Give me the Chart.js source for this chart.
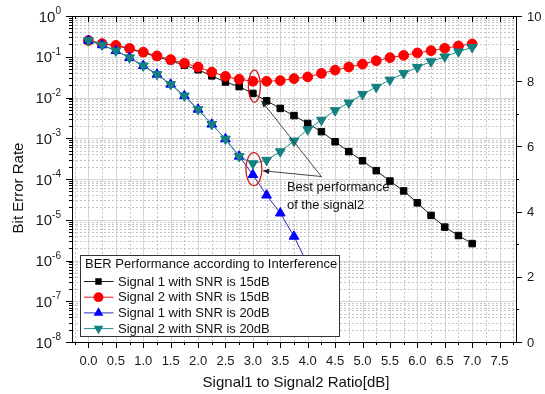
<!DOCTYPE html>
<html>
<head>
<meta charset="utf-8">
<script src="https://cdn.jsdelivr.net/npm/chart.js@4/dist/chart.umd.min.js"></script>
<style>
  html, body { margin: 0; padding: 0; background: #fff; }
  canvas { display: block; }
</style>
</head>
<body>
<canvas id="c" width="545" height="394"></canvas>
<script>
// Signal1-to-Signal2 power ratio in dB (x axis)
const ratios = [0, 0.25, 0.5, 0.75, 1.0, 1.25, 1.5, 1.75, 2.0, 2.25, 2.5, 2.75, 3.0, 3.25, 3.5,
                3.75, 4.0, 4.25, 4.5, 4.75, 5.0, 5.25, 5.5, 5.75, 6.0, 6.25, 6.5, 6.75, 7.0];

// Bit error rates
const sig1Snr15 = [0.25, 0.21, 0.19, 0.155, 0.125, 0.10, 0.08, 0.062, 0.048, 0.034, 0.024, 0.0185, 0.0126,
                   0.0083, 0.0054, 0.0036, 0.0023, 0.00145, 0.00082, 0.00047, 0.00028, 0.00016, 0.000089,
                   0.000051, 0.000026, 0.0000128, 0.0000066, 0.0000041, 0.0000026];
const sig2Snr15 = [0.25, 0.21, 0.19, 0.16, 0.13, 0.105, 0.085, 0.069, 0.056, 0.042, 0.033, 0.028, 0.025,
                   0.025, 0.026, 0.029, 0.032, 0.039, 0.047, 0.056, 0.066, 0.080, 0.095, 0.108, 0.124,
                   0.141, 0.161, 0.184, 0.206];
const sig1Snr20 = [0.25, 0.195, 0.14, 0.095, 0.06, 0.037, 0.021, 0.011, 0.0051, 0.0022, 0.00096, 0.00036,
                   0.000127, 0.00004, 0.0000145, 0.0000039, 0.0000008];
const sig2Snr20 = [0.25, 0.195, 0.14, 0.095, 0.06, 0.037, 0.021, 0.011, 0.0051, 0.0022, 0.00096, 0.00036,
                   0.00024, 0.00029, 0.00047, 0.00086, 0.00163, 0.0028, 0.0048, 0.0074, 0.012, 0.018,
                   0.027, 0.039, 0.055, 0.076, 0.10, 0.133, 0.17];

const xTickLabels = ['0.0', '0.5', '1.0', '1.5', '2.0', '2.5', '3.0', '3.5', '4.0', '4.5',
                     '5.0', '5.5', '6.0', '6.5', '7.0', '7.5'];
const yDecades = [0, -1, -2, -3, -4, -5, -6, -7, -8];
const rightTicks = [0, 2, 4, 6, 8, 10];

const legendTitle = 'BER Performance according to Interference';
const seriesNames = ['Signal 1 with SNR is 15dB', 'Signal 2 with SNR is 15dB',
                     'Signal 1 with SNR is 20dB', 'Signal 2 with SNR is 20dB'];
const xTitle = 'Signal1 to Signal2 Ratio[dB]';
const yTitle = 'Bit Error Rate';
const noteLines = ['Best performance', 'of the signal2'];

const FONT = "'Liberation Sans', Arial, Helvetica, sans-serif";

const styles = [
  { line: '#1a1a1a', fill: '#000000', shape: 'rect',     radius: 4.6, rot: 0,   order: 3 },
  { line: '#e21a1a', fill: '#ff0000', shape: 'circle',   radius: 4.9, rot: 0,   order: 2 },
  { line: '#3030b8', fill: '#0000ff', shape: 'triangle', radius: 5.6, rot: 0,   order: 1 },
  { line: '#2a8c8c', fill: '#168080', shape: 'triangle', radius: 5.6, rot: 180, order: 0 }
];
const seriesValues = [sig1Snr15, sig2Snr15, sig1Snr20, sig2Snr20];

const datasets = seriesValues.map((vals, i) => ({
  label: seriesNames[i],
  data: vals.map((v, k) => ({ x: ratios[k], y: v })),
  borderColor: styles[i].line,
  borderWidth: 1,
  backgroundColor: styles[i].fill,
  pointBackgroundColor: styles[i].fill,
  pointBorderColor: styles[i].fill,
  pointBorderWidth: 1,
  pointStyle: styles[i].shape,
  pointRadius: styles[i].radius,
  pointRotation: styles[i].rot,
  tension: 0,
  order: styles[i].order
}));

function px(v) { return Math.round(v) + 0.5; }

function drawMarker(ctx, shape, x, y, r, rot, color) {
  ctx.save();
  ctx.fillStyle = color;
  ctx.beginPath();
  if (shape === 'rect') {
    const s = r * Math.SQRT1_2;
    ctx.rect(x - s, y - s, 2 * s, 2 * s);
  } else if (shape === 'circle') {
    ctx.arc(x, y, r, 0, Math.PI * 2);
  } else {
    let a = rot * Math.PI / 180;
    ctx.moveTo(x + Math.sin(a) * r, y - Math.cos(a) * r);
    a += Math.PI * 2 / 3;
    ctx.lineTo(x + Math.sin(a) * r, y - Math.cos(a) * r);
    a += Math.PI * 2 / 3;
    ctx.lineTo(x + Math.sin(a) * r, y - Math.cos(a) * r);
    ctx.closePath();
  }
  ctx.fill();
  ctx.restore();
}

function arrow(ctx, x0, y0, x1, y1) {
  const a = Math.atan2(y1 - y0, x1 - x0);
  const L = 7, W = 2.6;
  ctx.beginPath();
  ctx.moveTo(x0, y0);
  ctx.lineTo(x1 - Math.cos(a) * L * 0.8, y1 - Math.sin(a) * L * 0.8);
  ctx.stroke();
  ctx.beginPath();
  ctx.moveTo(x1, y1);
  ctx.lineTo(x1 - Math.cos(a) * L - Math.sin(a) * W, y1 - Math.sin(a) * L + Math.cos(a) * W);
  ctx.lineTo(x1 - Math.cos(a) * L + Math.sin(a) * W, y1 - Math.sin(a) * L - Math.cos(a) * W);
  ctx.closePath();
  ctx.fill();
}

// Grid lines behind the data (major solid, minor dotted)
const gridPlugin = {
  id: 'originGrid',
  beforeDatasetsDraw(chart) {
    const { ctx, chartArea: a, scales: { x, y } } = chart;
    ctx.save();
    ctx.lineWidth = 1;
    // vertical
    for (let k = -1; k <= 31; k++) {
      const v = k * 0.25;
      if (v <= x.min || v >= x.max) continue;
      const p = px(x.getPixelForValue(v));
      const major = k % 2 === 0;
      ctx.strokeStyle = major ? '#d6d6d6' : '#c4c4c4';
      ctx.setLineDash(major ? [] : [2, 2]);
      ctx.beginPath(); ctx.moveTo(p, a.top); ctx.lineTo(p, a.bottom); ctx.stroke();
    }
    // horizontal
    for (const d of yDecades) {
      for (let m = 1; m <= 9; m++) {
        const v = m * Math.pow(10, d);
        if (v <= y.min || v >= y.max) continue;
        const p = px(y.getPixelForValue(v));
        const major = m === 1;
        ctx.strokeStyle = major ? '#d6d6d6' : '#c4c4c4';
        ctx.setLineDash(major ? [] : [2, 2]);
        ctx.beginPath(); ctx.moveTo(a.left, p); ctx.lineTo(a.right, p); ctx.stroke();
      }
    }
    ctx.restore();
  }
};

// Frame, ticks, labels, legend and annotations above the data
const framePlugin = {
  id: 'originFrame',
  afterDatasetsDraw(chart) {
    const { ctx, chartArea: a, scales: { x, y, y2 } } = chart;
    ctx.save();
    ctx.strokeStyle = '#000';
    ctx.fillStyle = '#000';
    ctx.lineWidth = 1;
    ctx.setLineDash([]);

    // plot frame
    ctx.strokeRect(px(a.left), px(a.top), Math.round(a.right - a.left), Math.round(a.bottom - a.top));

    // x ticks (bottom outward, top inward)
    ctx.beginPath();
    for (let k = -1; k <= 31; k++) {
      const v = k * 0.25;
      if (v <= x.min || v >= x.max) continue;
      const p = px(x.getPixelForValue(v));
      const len = k % 2 === 0 ? 6 : 3;
      ctx.moveTo(p, a.bottom); ctx.lineTo(p, a.bottom + len);
      ctx.moveTo(p, a.top); ctx.lineTo(p, a.top + len);
    }
    // y ticks (left, log)
    for (const d of yDecades) {
      for (let m = 1; m <= 9; m++) {
        const v = m * Math.pow(10, d);
        if (v < y.min || v > y.max) continue;
        const p = px(y.getPixelForValue(v));
        const len = m === 1 ? 6 : 3;
        ctx.moveTo(a.left, p); ctx.lineTo(a.left - len, p);
      }
    }
    // right axis ticks
    for (let v = 0; v <= 10; v++) {
      const p = px(y2.getPixelForValue(v));
      const len = v % 2 === 0 ? 6 : 3;
      ctx.moveTo(a.right, p); ctx.lineTo(a.right + len, p);
    }
    ctx.stroke();

    // x tick labels
    ctx.fillStyle = '#1a1a1a';
    ctx.font = '13px ' + FONT;
    ctx.textAlign = 'center';
    ctx.textBaseline = 'middle';
    xTickLabels.forEach(t => {
      ctx.fillText(t, x.getPixelForValue(parseFloat(t)), a.bottom + 19);
    });

    // right tick labels
    ctx.textAlign = 'left';
    rightTicks.forEach(v => {
      ctx.fillText(String(v), a.right + 11, y2.getPixelForValue(v) + 1);
    });

    // left log labels with superscript exponent
    yDecades.forEach(d => {
      const p = y.getPixelForValue(Math.pow(10, d));
      const sup = d === 0 ? '0' : '-' + Math.abs(d);
      ctx.font = '10px ' + FONT;
      const sw = ctx.measureText(sup).width;
      const right = a.left - 11;
      ctx.textAlign = 'left';
      ctx.textBaseline = 'alphabetic';
      ctx.fillText(sup, right - sw, p - 2);
      ctx.font = '15px ' + FONT;
      ctx.textAlign = 'right';
      ctx.textBaseline = 'middle';
      ctx.fillText('10', right - sw, p + 1.5);
    });

    // axis titles
    ctx.fillStyle = '#111';
    ctx.font = '15px ' + FONT;
    ctx.textAlign = 'center';
    ctx.textBaseline = 'middle';
    ctx.fillText(xTitle, (a.left + a.right) / 2 + 2, a.bottom + 41);
    ctx.save();
    ctx.translate(19, (a.top + a.bottom) / 2 + 9);
    ctx.rotate(-Math.PI / 2);
    ctx.fillText(yTitle, 0, 0);
    ctx.restore();

    // legend box
    const lx = 80.5, ly = 255.5, lw = 259, lh = 81;
    ctx.fillStyle = '#fff';
    ctx.fillRect(lx, ly, lw, lh);
    ctx.strokeStyle = '#333';
    ctx.strokeRect(lx, ly, lw, lh);
    ctx.fillStyle = '#111';
    ctx.font = '13px ' + FONT;
    ctx.textAlign = 'left';
    ctx.textBaseline = 'middle';
    ctx.fillText(legendTitle, lx + 4.5, ly + 9);
    seriesNames.forEach((name, i) => {
      const ey = ly + 26 + i * 15.7;
      const s = styles[i];
      ctx.strokeStyle = s.line;
      ctx.beginPath(); ctx.moveTo(lx + 3.5, ey); ctx.lineTo(lx + 33, ey); ctx.stroke();
      drawMarker(ctx, s.shape, lx + 18, ey, s.radius, s.rot, s.fill);
      ctx.fillStyle = '#111';
      ctx.fillText(name, lx + 37.5, ey + 0.5);
    });

    // red ellipses around the points at 3 dB
    ctx.strokeStyle = '#d01c1c';
    ctx.lineWidth = 1.3;
    const e1x = x.getPixelForValue(3.0), e1y = y.getPixelForValue(0.019);
    ctx.beginPath(); ctx.ellipse(e1x + 1.5, e1y, 6, 16, 0, 0, Math.PI * 2); ctx.stroke();
    const e2y = y.getPixelForValue(0.000175);
    ctx.beginPath(); ctx.ellipse(e1x + 1, e2y, 8, 16.5, 0, 0, Math.PI * 2); ctx.stroke();

    // arrows from the note to the marked points
    ctx.strokeStyle = '#333';
    ctx.fillStyle = '#222';
    ctx.lineWidth = 0.9;
    const tx = x.getPixelForValue(4.25), ty = y.getPixelForValue(0.000115);
    arrow(ctx, tx, ty, x.getPixelForValue(3.15), y.getPixelForValue(0.0085));
    arrow(ctx, tx, ty, x.getPixelForValue(3.17), y.getPixelForValue(0.00016));

    // note text
    ctx.fillStyle = '#111';
    ctx.font = '13px ' + FONT;
    ctx.textAlign = 'left';
    ctx.textBaseline = 'middle';
    ctx.fillText(noteLines[0], tx - 34.5, ty + 11);
    ctx.fillText(noteLines[1], tx - 34.5, ty + 28.5);

    ctx.restore();
  }
};

const bgPlugin = {
  id: 'whiteBg',
  beforeDraw(chart) {
    const ctx = chart.ctx;
    ctx.save();
    ctx.fillStyle = '#fff';
    ctx.fillRect(0, 0, chart.width, chart.height);
    ctx.restore();
  }
};

new Chart(document.getElementById('c'), {
  type: 'line',
  data: { datasets },
  options: {
    responsive: false,
    animation: false,
    devicePixelRatio: 1,
    layout: { padding: { left: 72, top: 16, right: 29, bottom: 52 } },
    plugins: { legend: { display: false }, tooltip: { enabled: false } },
    scales: {
      x: { type: 'linear', min: -0.3, max: 7.8, display: false },
      y: { type: 'logarithmic', min: 1e-8, max: 1, display: false },
      y2: { type: 'linear', position: 'right', min: 0, max: 10, display: false }
    }
  },
  plugins: [bgPlugin, gridPlugin, framePlugin]
});
</script>
</body>
</html>
